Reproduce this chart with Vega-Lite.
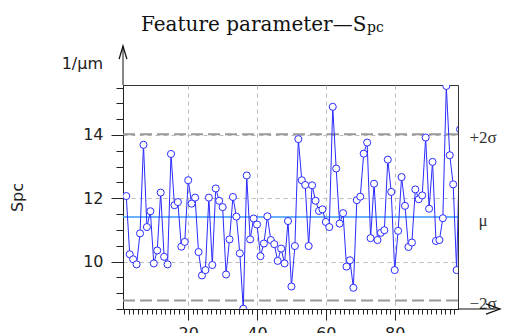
{
  "$schema": "https://vega.github.io/schema/vega-lite/v6.json",
  "width": 335,
  "height": 224,
  "autosize": {"type": "none"},
  "padding": {"left": 123, "top": 85, "right": 49, "bottom": 24},
  "background": "white",
  "config": {
    "view": {"stroke": "#333", "strokeWidth": 1},
    "axis": {
      "domainColor": "#222",
      "tickColor": "#222",
      "labelColor": "#222",
      "labelFont": "DejaVu Sans",
      "labelFontSize": 16,
      "titleFont": "DejaVu Sans",
      "titleFontSize": 16,
      "titleFontWeight": "normal",
      "titleColor": "#222",
      "gridColor": "#bbb",
      "gridDash": [4, 4],
      "gridWidth": 1,
      "labelOverlap": false,
      "labelFlush": false
    }
  },
  "resolve": {"axis": {"x": "independent", "y": "independent"}},
  "datasets": {
    "series": [
      {"i": 2, "spc": 12.07}, {"i": 3, "spc": 10.23}, {"i": 4, "spc": 10.07}, {"i": 5, "spc": 9.91},
      {"i": 6, "spc": 10.89}, {"i": 7, "spc": 13.69}, {"i": 8, "spc": 11.09}, {"i": 9, "spc": 11.59},
      {"i": 10, "spc": 9.94}, {"i": 11, "spc": 10.35}, {"i": 12, "spc": 12.18}, {"i": 13, "spc": 10.15},
      {"i": 14, "spc": 9.91}, {"i": 15, "spc": 13.40}, {"i": 16, "spc": 11.78}, {"i": 17, "spc": 11.88},
      {"i": 18, "spc": 10.47}, {"i": 19, "spc": 10.62}, {"i": 20, "spc": 12.57}, {"i": 21, "spc": 11.83},
      {"i": 22, "spc": 12.02}, {"i": 23, "spc": 10.30}, {"i": 24, "spc": 9.56}, {"i": 25, "spc": 9.73},
      {"i": 26, "spc": 12.02}, {"i": 27, "spc": 9.89}, {"i": 28, "spc": 12.31}, {"i": 29, "spc": 11.92},
      {"i": 30, "spc": 11.72}, {"i": 31, "spc": 9.59}, {"i": 32, "spc": 10.70}, {"i": 33, "spc": 12.04},
      {"i": 34, "spc": 11.42}, {"i": 35, "spc": 10.26}, {"i": 36, "spc": 8.51}, {"i": 37, "spc": 12.72},
      {"i": 38, "spc": 10.70}, {"i": 39, "spc": 11.36}, {"i": 40, "spc": 11.17}, {"i": 41, "spc": 10.17},
      {"i": 42, "spc": 10.57}, {"i": 43, "spc": 11.43}, {"i": 44, "spc": 10.68}, {"i": 45, "spc": 10.55},
      {"i": 46, "spc": 10.02}, {"i": 47, "spc": 10.41}, {"i": 48, "spc": 9.94}, {"i": 49, "spc": 11.28},
      {"i": 50, "spc": 9.21}, {"i": 51, "spc": 10.49}, {"i": 52, "spc": 13.87}, {"i": 53, "spc": 12.57},
      {"i": 54, "spc": 12.42}, {"i": 55, "spc": 10.49}, {"i": 56, "spc": 12.41}, {"i": 57, "spc": 11.92},
      {"i": 58, "spc": 11.60}, {"i": 59, "spc": 11.65}, {"i": 60, "spc": 11.25}, {"i": 61, "spc": 11.09},
      {"i": 62, "spc": 14.89}, {"i": 63, "spc": 12.94}, {"i": 64, "spc": 11.20}, {"i": 65, "spc": 11.53},
      {"i": 66, "spc": 9.84}, {"i": 67, "spc": 10.04}, {"i": 68, "spc": 9.17}, {"i": 69, "spc": 11.94},
      {"i": 70, "spc": 12.05}, {"i": 71, "spc": 13.41}, {"i": 72, "spc": 13.76}, {"i": 73, "spc": 10.74},
      {"i": 74, "spc": 12.46}, {"i": 75, "spc": 10.68}, {"i": 76, "spc": 10.91}, {"i": 77, "spc": 10.99},
      {"i": 78, "spc": 13.22}, {"i": 79, "spc": 12.20}, {"i": 80, "spc": 9.73}, {"i": 81, "spc": 10.97},
      {"i": 82, "spc": 12.67}, {"i": 83, "spc": 11.76}, {"i": 84, "spc": 10.46}, {"i": 85, "spc": 10.60},
      {"i": 86, "spc": 12.28}, {"i": 87, "spc": 11.97}, {"i": 88, "spc": 12.09}, {"i": 89, "spc": 13.92},
      {"i": 90, "spc": 11.67}, {"i": 91, "spc": 13.15}, {"i": 92, "spc": 10.65}, {"i": 93, "spc": 10.68},
      {"i": 94, "spc": 11.37}, {"i": 95, "spc": 15.55}, {"i": 96, "spc": 13.36}, {"i": 97, "spc": 12.44},
      {"i": 98, "spc": 9.73}, {"i": 99, "spc": 14.18}
    ],
    "refs": [
      {"label": "+2σ", "value": 14.02, "kind": "sigma"},
      {"label": "μ", "value": 11.41, "kind": "mean"},
      {"label": "−2σ", "value": 8.77, "kind": "sigma"}
    ]
  },
  "layer": [
    {
      "data": {"name": "refs"},
      "transform": [{"filter": "datum.kind === 'sigma'"}],
      "mark": {"type": "rule", "stroke": "#999", "strokeWidth": 2, "strokeDash": [12, 5]},
      "encoding": {
        "y": {
          "field": "value", "type": "quantitative",
          "scale": {"domain": [8.5, 15.58], "nice": false, "zero": false},
          "axis": {
            "orient": "left",
            "values": [10, 12, 14],
            "tickSize": 12,
            "labelPadding": 8,
            "grid": true,
            "title": "Spc",
            "titleAngle": -90,
            "titleX": -101,
            "titleY": 112,
            "titleAlign": "center",
            "titleBaseline": "alphabetic"
          }
        }
      }
    },
    {
      "data": {"name": "refs"},
      "transform": [{"filter": "datum.kind === 'mean'"}],
      "mark": {"type": "rule", "stroke": "#3399ff", "strokeWidth": 1.5},
      "encoding": {
        "y": {
          "field": "value", "type": "quantitative",
          "axis": {
            "orient": "left",
            "values": [8.5, 9, 9.5, 10, 10.5, 11, 11.5, 12, 12.5, 13, 13.5, 14, 14.5, 15, 15.5],
            "tickSize": 7,
            "labels": false,
            "grid": false,
            "title": null
          }
        }
      }
    },
    {
      "data": {"name": "series"},
      "mark": {"type": "line", "stroke": "#2b2bff", "strokeWidth": 1, "clip": true},
      "encoding": {
        "x": {
          "field": "i", "type": "quantitative",
          "scale": {"domain": [1.05, 98.4], "nice": false, "zero": false},
          "axis": {
            "orient": "bottom",
            "values": [20, 40, 60, 80],
            "tickSize": 11,
            "labelPadding": 5,
            "grid": true,
            "title": null
          }
        },
        "y": {"field": "spc", "type": "quantitative", "axis": null}
      }
    },
    {
      "data": {"name": "series"},
      "mark": {"type": "point", "shape": "circle", "size": 50, "filled": true, "fill": "white", "stroke": "#2b2bff", "strokeWidth": 1, "opacity": 1, "clip": true},
      "encoding": {
        "x": {
          "field": "i", "type": "quantitative",
          "axis": {
            "orient": "bottom",
            "values": [1.3333, 2.6667, 4, 5.3333, 6.6667, 8, 9.3333, 10.6667, 12, 13.3333, 14.6667, 16, 17.3333, 18.6667, 20, 21.3333, 22.6667, 24, 25.3333, 26.6667, 28, 29.3333, 30.6667, 32, 33.3333, 34.6667, 36, 37.3333, 38.6667, 40, 41.3333, 42.6667, 44, 45.3333, 46.6667, 48, 49.3333, 50.6667, 52, 53.3333, 54.6667, 56, 57.3333, 58.6667, 60, 61.3333, 62.6667, 64, 65.3333, 66.6667, 68, 69.3333, 70.6667, 72, 73.3333, 74.6667, 76, 77.3333, 78.6667, 80, 81.3333, 82.6667, 84, 85.3333, 86.6667, 88, 89.3333, 90.6667, 92, 93.3333, 94.6667, 96, 97.3333],
            "tickSize": 5,
            "labels": false,
            "grid": false,
            "title": null
          }
        },
        "y": {"field": "spc", "type": "quantitative", "axis": null}
      }
    },
    {
      "data": {"name": "refs"},
      "mark": {"type": "text", "font": "Liberation Serif", "fontSize": 17, "color": "#333", "align": "center", "baseline": "alphabetic", "dx": 25, "dy": 9},
      "encoding": {
        "x": {"datum": 98.4, "axis": null},
        "y": {"field": "value", "type": "quantitative", "axis": null},
        "text": {"field": "label"}
      }
    },
    {
      "data": {"values": [{}]},
      "mark": {"type": "rule", "stroke": "#111", "strokeWidth": 1},
      "encoding": {
        "x": {"datum": 1.05, "axis": null},
        "y": {"datum": 15.58, "axis": null},
        "y2": {"datum": 16.81}
      }
    },
    {
      "data": {"values": [{}]},
      "mark": {"type": "point", "shape": "M-0.3,1L0,0L0.3,1", "size": 676, "filled": false, "stroke": "#111", "strokeWidth": 1.3, "opacity": 1},
      "encoding": {
        "x": {"datum": 1.05, "axis": null},
        "y": {"datum": 16.81, "axis": null}
      }
    },
    {
      "data": {"values": [{}]},
      "mark": {"type": "rule", "stroke": "#111", "strokeWidth": 1},
      "encoding": {
        "x": {"datum": 98.4, "axis": null},
        "x2": {"datum": 110.6},
        "y": {"datum": 8.5, "axis": null}
      }
    },
    {
      "data": {"values": [{}]},
      "mark": {"type": "point", "shape": "M-1,-0.36L0,0L-1,0.36", "size": 784, "filled": false, "stroke": "#111", "strokeWidth": 1.3, "opacity": 1},
      "encoding": {
        "x": {"datum": 110.6, "axis": null},
        "y": {"datum": 8.5, "axis": null}
      }
    },
    {
      "data": {"values": [{}]},
      "mark": {"type": "text", "font": "DejaVu Sans", "fontSize": 16, "color": "#222", "align": "right", "baseline": "middle", "dx": -20},
      "encoding": {
        "x": {"datum": 1.05, "axis": null},
        "y": {"datum": 16.24, "axis": null},
        "text": {"value": "1/μm"}
      }
    },
    {
      "data": {"values": [{}]},
      "mark": {"type": "text", "font": "DejaVu Serif", "fontSize": 20, "color": "#111", "align": "left", "baseline": "alphabetic"},
      "encoding": {
        "x": {"datum": 6.28, "axis": null},
        "y": {"datum": 17.3, "axis": null},
        "text": {"value": "Feature parameter—S"}
      }
    },
    {
      "data": {"values": [{}]},
      "mark": {"type": "text", "font": "DejaVu Serif", "fontSize": 14, "color": "#111", "align": "left", "baseline": "alphabetic"},
      "encoding": {
        "x": {"datum": 71.95, "axis": null},
        "y": {"datum": 17.27, "axis": null},
        "text": {"value": "pc"}
      }
    }
  ]
}
